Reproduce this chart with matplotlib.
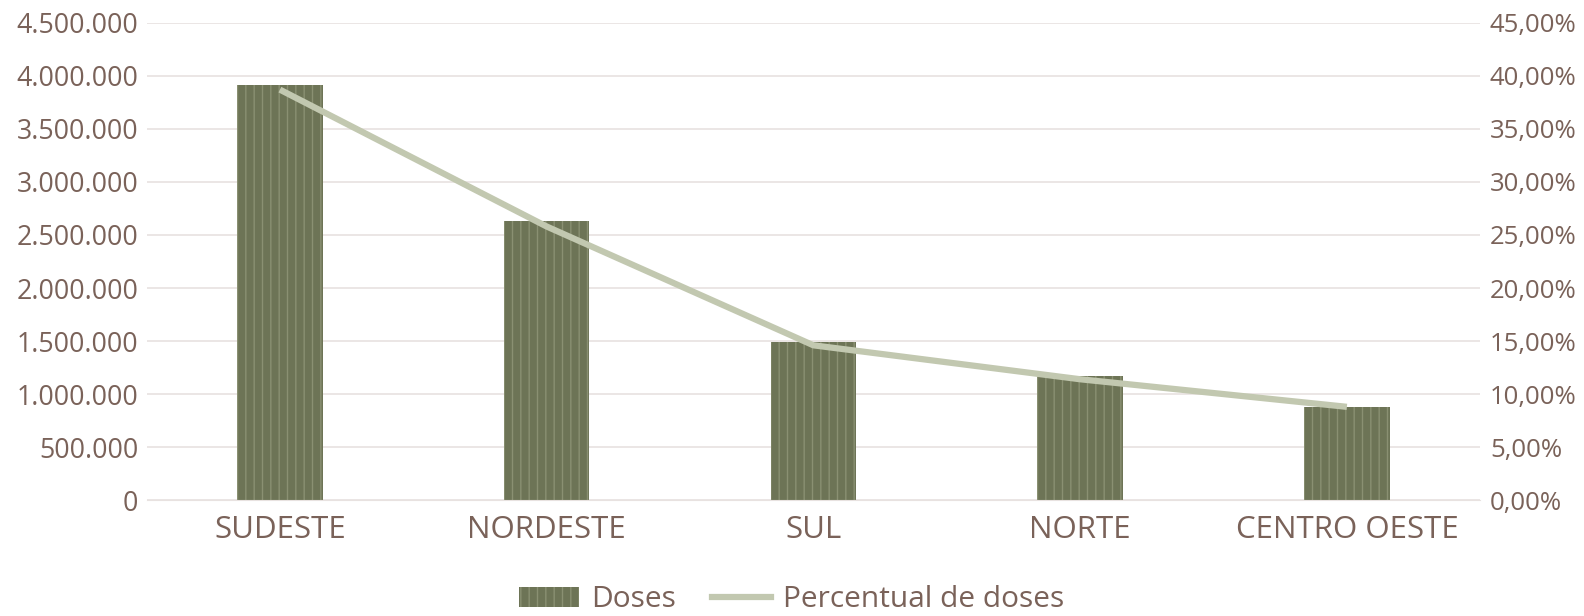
import matplotlib
matplotlib.use("Agg")
import matplotlib.pyplot as plt
from matplotlib.ticker import FixedLocator, FuncFormatter
from matplotlib.patches import Patch
from matplotlib.lines import Line2D

categories = ["SUDESTE", "NORDESTE", "SUL", "NORTE", "CENTRO OESTE"]
doses = [3910000, 2630000, 1490000, 1170000, 880000]
percentual = [38.7, 25.8, 14.6, 11.4, 8.8]
left_ticks = [0, 500000, 1000000, 1500000, 2000000, 2500000, 3000000, 3500000, 4000000, 4500000]
right_ticks = [0, 5, 10, 15, 20, 25, 30, 35, 40, 45]

text_color = "#7a6259"
grid_color = "#e8e2e0"
bar_color = "#6d7456"
line_color = "#c2c8b0"

plt.rcParams['font.family'] = ['Open Sans', 'DejaVu Sans']

fig = plt.figure(figsize=(15.84, 6.16), dpi=100)
ax = fig.add_axes([0.0925, 0.188, 0.842, 0.775])
x = list(range(len(categories)))
ax.bar(x, doses, width=0.32, color=bar_color, hatch='||', edgecolor='#8a9072', linewidth=0, zorder=2)
ax.set_ylim(0, 4500000)
ax.set_xlim(-0.5, len(categories) - 0.5)
ax.yaxis.set_major_locator(FixedLocator(left_ticks))
ax.yaxis.set_major_formatter(FuncFormatter(lambda v, p: f"{int(v):,}".replace(",", ".")))
ax.grid(axis='y', color=grid_color, linewidth=1.2, zorder=0)
ax.set_axisbelow(True)
for s in ax.spines.values():
    s.set_visible(False)
ax.spines['bottom'].set_visible(True)
ax.spines['bottom'].set_color(grid_color)
ax.set_xticks(x)
ax.set_xticklabels(categories)
ax.tick_params(axis='x', length=0, labelsize=22.5, labelcolor=text_color, pad=11)
ax.tick_params(axis='y', length=0, labelsize=19.3, labelcolor=text_color, pad=6)

ax2 = ax.twinx()
ax2.plot(x, percentual, color=line_color, linewidth=4.5, zorder=3, solid_capstyle='butt')
ax2.set_ylim(0, 45)
ax2.yaxis.set_major_locator(FixedLocator(right_ticks))
ax2.yaxis.set_major_formatter(FuncFormatter(lambda v, p: f"{v:.2f}".replace(".", ",") + "%"))
for s in ax2.spines.values():
    s.set_visible(False)
ax2.tick_params(axis='y', length=0, labelsize=18.5, labelcolor=text_color, pad=7)

handles = [Patch(facecolor=bar_color, hatch='||', edgecolor='#8a9072', linewidth=0),
           Line2D([0], [0], color=line_color, linewidth=4.5)]
fig.legend(handles, ["Doses", "Percentual de doses"], loc='center', bbox_to_anchor=(0.5, 0.026),
           ncol=2, frameon=False, fontsize=21.5, labelcolor=text_color, handlelength=2.0,
           handletextpad=0.4, columnspacing=1.2)

fig.savefig("out.png", dpi=100)
